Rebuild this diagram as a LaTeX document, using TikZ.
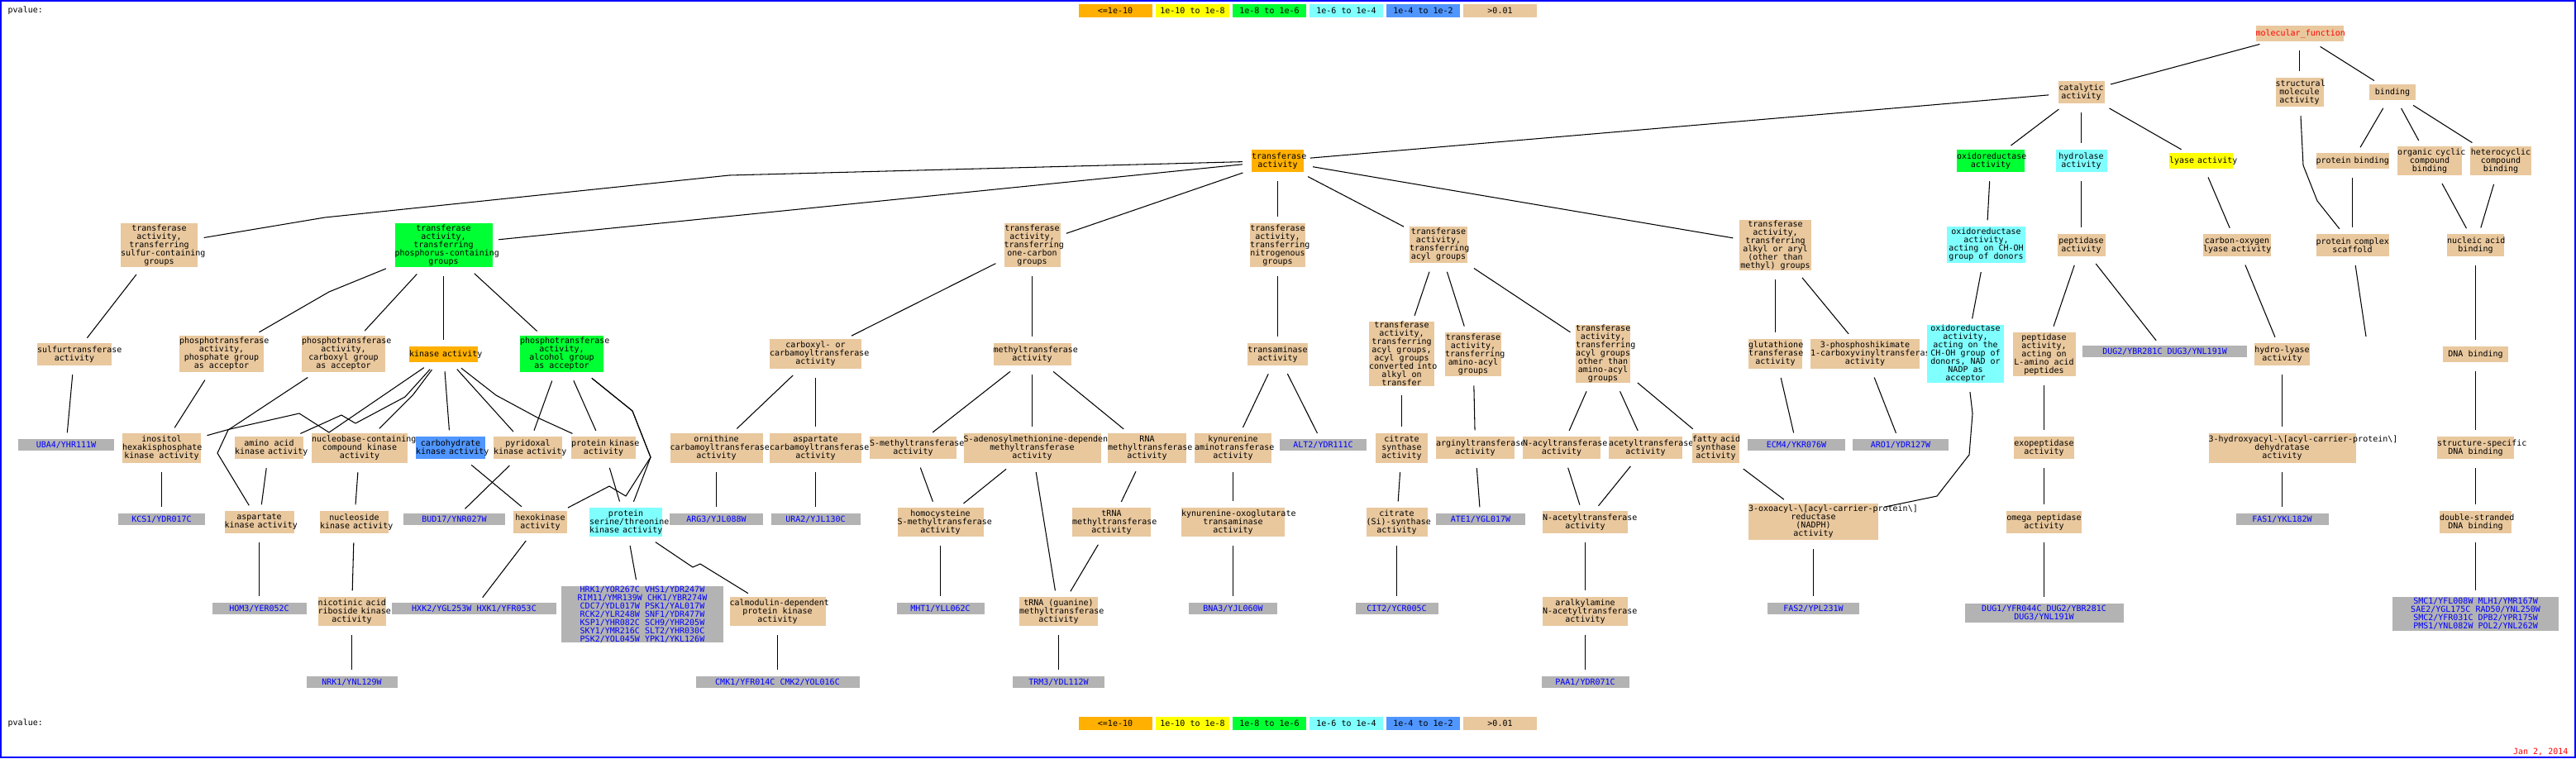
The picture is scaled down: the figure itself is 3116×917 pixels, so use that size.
\documentclass[tikz,border=0pt]{standalone}
\usepackage{fontspec}
\newfontfamily\gofont{DejaVu Sans Mono}
\newdimen\gopx \gopx=0.01cm
\definecolor{cTan}{RGB}{233,200,158}
\definecolor{cOrange}{RGB}{255,176,0}
\definecolor{cYellow}{RGB}{255,255,0}
\definecolor{cGreen}{RGB}{0,255,51}
\definecolor{cCyan}{RGB}{128,255,255}
\definecolor{cBlue}{RGB}{80,150,255}
\definecolor{cGray}{RGB}{179,179,179}
\definecolor{cGeneText}{RGB}{0,0,255}
\definecolor{cRed}{RGB}{255,0,0}
\definecolor{cBorder}{RGB}{0,0,255}
\hyphenpenalty=10000
\exhyphenpenalty=10000
\tikzset{
  gobox/.style={rectangle, inner sep=0pt, align=flush center,
    font=\gofont\fontsize{2.845pt}{2.845pt}\selectfont},
  sz/.style n args={2}{text width=#1\gopx, minimum height=#2\gopx},
  tanbox/.style={gobox, fill=cTan},
  orangebox/.style={gobox, fill=cOrange},
  yellowbox/.style={gobox, fill=cYellow},
  greenbox/.style={gobox, fill=cGreen},
  cyanbox/.style={gobox, fill=cCyan},
  bluebox/.style={gobox, fill=cBlue},
  genebox/.style={gobox, fill=cGray, text=cGeneText},
  plain/.style={inner sep=0pt, font=\gofont\fontsize{2.845pt}{2.845pt}\selectfont},
  conn/.style={draw=black, line width=0.3pt, shorten <=3pt, shorten >=2pt},
}
\begin{document}
\hyphenpenalty=10000
\exhyphenpenalty=10000
\begin{tikzpicture}[x=0.01cm, y=-0.01cm]
\fill[white] (0,0) rectangle (3116,917);
\useasboundingbox (0,0) rectangle (3116,917);
\draw[cBorder, line width=0.57pt] (1,1) rectangle (3115,916);

% legends
\node[plain, anchor=west] (pv1) at (9,13) {pvalue:};
\node[plain, anchor=west] (pv2) at (9,875) {pvalue:};
\node[orangebox, sz={89}{16}] (la1) at (1349,13) {<=1e-10};
\node[yellowbox, sz={89}{16}] (la2) at (1442.5,13) {1e-10~to~1e-8};
\node[greenbox, sz={89}{16}] (la3) at (1535.5,13) {1e-8~to~1e-6};
\node[cyanbox, sz={89}{16}] (la4) at (1628.5,13) {1e-6~to~1e-4};
\node[bluebox, sz={89}{16}] (la5) at (1721.5,13) {1e-4~to~1e-2};
\node[tanbox, sz={89}{16}] (la6) at (1814.5,13) {>0.01};
\node[orangebox, sz={89}{16}] (lb1) at (1349,875) {<=1e-10};
\node[yellowbox, sz={89}{16}] (lb2) at (1442.5,875) {1e-10~to~1e-8};
\node[greenbox, sz={89}{16}] (lb3) at (1535.5,875) {1e-8~to~1e-6};
\node[cyanbox, sz={89}{16}] (lb4) at (1628.5,875) {1e-6~to~1e-4};
\node[bluebox, sz={89}{16}] (lb5) at (1721.5,875) {1e-4~to~1e-2};
\node[tanbox, sz={89}{16}] (lb6) at (1814.5,875) {>0.01};
\node[plain, anchor=east, text=cRed] (date) at (3107,909) {Jan~2,~2014};

% rank 0-2
\node[tanbox, sz={106}{19}, text=cRed] (mf) at (2781.5,40.5) {molecular\_function};
\node[tanbox, sz={56}{27}] (cat) at (2517.5,111.5) {catalytic\\activity};
\node[tanbox, sz={58}{35}] (str) at (2781.5,111.5) {structural\\molecule\\activity};
\node[tanbox, sz={56}{19}] (bind) at (2894,111.5) {binding};
\node[orangebox, sz={63}{27}] (tr) at (1545.5,194.5) {transferase\\activity};
\node[greenbox, sz={82}{27}] (ox) at (2408,194.5) {oxidoreductase\\activity};
\node[cyanbox, sz={62}{27}] (hyd) at (2517.5,194.5) {hydrolase\\activity};
\node[yellowbox, sz={77}{19}] (lya) at (2662.5,194.5) {lyase~activity};
\node[tanbox, sz={88}{19}] (pb) at (2845.5,194.5) {protein~binding};
\node[tanbox, sz={78}{35}] (org) at (2939,194.5) {organic~cyclic\\compound\\binding};
\node[tanbox, sz={74}{35}] (het) at (3025,194.5) {heterocyclic\\compound\\binding};

% rank 3
\node[tanbox, sz={93}{53}] (sul) at (192.5,296.5) {transferase\\activity,\\transferring\\sulfur-containing\\groups};
\node[greenbox, sz={118}{53}] (pho) at (536.5,296.5) {transferase\\activity,\\transferring\\phosphorus-containing\\groups};
\node[tanbox, sz={68}{53}] (one) at (1248.5,296.5) {transferase\\activity,\\transferring\\one-carbon\\groups};
\node[tanbox, sz={67}{53}] (nit) at (1545.5,296.5) {transferase\\activity,\\transferring\\nitrogenous\\groups};
\node[tanbox, sz={70}{44}] (acy) at (1740,296) {transferase\\activity,\\transferring\\acyl~groups};
\node[tanbox, sz={87}{61}] (alk) at (2147.5,296.5) {transferase\\activity,\\transferring\\alkyl~or~aryl\\(other~than\\methyl)~groups};
\node[cyanbox, sz={95}{44}] (choh) at (2402.5,296) {oxidoreductase\\activity,\\acting~on~CH-OH\\group~of~donors};
\node[tanbox, sz={58}{27}] (pep) at (2517.5,296.5) {peptidase\\activity};
\node[tanbox, sz={82}{27}] (co) at (2706,296.5) {carbon-oxygen\\lyase~activity};
\node[tanbox, sz={88}{27}] (scf) at (2845.5,296.5) {protein~complex\\scaffold};
\node[tanbox, sz={69}{27}] (nuc) at (2994.5,296.5) {nucleic~acid\\binding};

% rank 4
\node[tanbox, sz={90}{27}] (sult) at (90,428.5) {sulfurtransferase\\activity};
\node[tanbox, sz={102}{44}] (pgrp) at (268,428) {phosphotransferase\\activity,\\phosphate~group\\as~acceptor};
\node[tanbox, sz={101}{44}] (cgrp) at (415.5,428) {phosphotransferase\\activity,\\carboxyl~group\\as~acceptor};
\node[orangebox, sz={83}{19}] (kin) at (536.5,428.5) {kinase~activity};
\node[greenbox, sz={101}{44}] (agrp) at (679.5,428) {phosphotransferase\\activity,\\alcohol~group\\as~acceptor};
\node[tanbox, sz={111}{36}] (cbm) at (986.5,428) {carboxyl-~or\\carbamoyltransferase\\activity};
\node[tanbox, sz={94}{27}] (mt) at (1248.5,428.5) {methyltransferase\\activity};
\node[tanbox, sz={73}{27}] (tam) at (1545.5,428.5) {transaminase\\activity};
\node[tanbox, sz={79}{78}] (conv) at (1695.5,428) {transferase\\activity,\\transferring\\acyl~groups,\\acyl~groups\\converted~into\\alkyl~on\\transfer};
\node[tanbox, sz={68}{53}] (aac) at (1782,428.5) {transferase\\activity,\\transferring\\amino-acyl\\groups};
\node[tanbox, sz={66}{70}] (oth) at (1939,428) {transferase\\activity,\\transferring\\acyl~groups\\other~than\\amino-acyl\\groups};
\node[tanbox, sz={65}{36}] (glu) at (2147.5,428) {glutathione\\transferase\\activity};
\node[tanbox, sz={132}{36}] (shk) at (2256,428) {3-phosphoshikimate\\1-carboxyvinyltransferase\\activity};
\node[cyanbox, sz={93}{70}] (nad) at (2377.5,428) {oxidoreductase\\activity,\\acting~on~the\\CH-OH~group~of\\donors,~NAD~or\\NADP~as\\acceptor};
\node[tanbox, sz={76}{53}] (lam) at (2472.5,428.5) {peptidase\\activity,\\acting~on\\L-amino~acid\\peptides};
\node[genebox, sz={199}{14}] (gdug) at (2618.5,425) {DUG2/YBR281C~DUG3/YNL191W};
\node[tanbox, sz={67}{27}] (hl) at (2760.5,428.5) {hydro-lyase\\activity};
\node[tanbox, sz={79}{19}] (dna) at (2994.5,428.5) {DNA~binding};

% rank 5
\node[genebox, sz={116}{14}] (guba) at (80,538) {UBA4/YHR111W};
\node[tanbox, sz={95}{36}] (ino) at (195.5,542) {inositol\\hexakisphosphate\\kinase~activity};
\node[tanbox, sz={83}{27}] (aak) at (325.5,541.5) {amino~acid\\kinase~activity};
\node[tanbox, sz={116}{36}] (nbk) at (435,542) {nucleobase-containing\\compound~kinase\\activity};
\node[bluebox, sz={84}{27}] (chk) at (545,541.5) {carbohydrate\\kinase~activity};
\node[tanbox, sz={83}{27}] (pyk) at (638.5,541.5) {pyridoxal\\kinase~activity};
\node[tanbox, sz={78}{27}] (pk) at (730,541.5) {protein~kinase\\activity};
\node[tanbox, sz={112}{36}] (orn) at (866.5,542) {ornithine\\carbamoyltransferase\\activity};
\node[tanbox, sz={111}{36}] (acb) at (986.5,542) {aspartate\\carbamoyltransferase\\activity};
\node[tanbox, sz={105}{27}] (smt) at (1104.5,541.5) {S-methyltransferase\\activity};
\node[tanbox, sz={166}{36}] (sam) at (1248.5,542) {S-adenosylmethionine-dependent\\methyltransferase\\activity};
\node[tanbox, sz={95}{36}] (rmt) at (1387.5,542) {RNA\\methyltransferase\\activity};
\node[tanbox, sz={93}{36}] (kat) at (1491.5,542) {kynurenine\\aminotransferase\\activity};
\node[genebox, sz={105}{14}] (galt) at (1600.5,538) {ALT2/YDR111C};
\node[tanbox, sz={63}{36}] (cs) at (1695.5,542) {citrate\\synthase\\activity};
\node[tanbox, sz={95}{27}] (arg) at (1784.5,541.5) {arginyltransferase\\activity};
\node[tanbox, sz={94}{27}] (nac) at (1889,541.5) {N-acyltransferase\\activity};
\node[tanbox, sz={89}{27}] (act) at (1990.5,541.5) {acetyltransferase\\activity};
\node[tanbox, sz={57}{36}] (fas) at (2075.5,542) {fatty~acid\\synthase\\activity};
\node[genebox, sz={118}{14}] (gecm) at (2173,538) {ECM4/YKR076W};
\node[genebox, sz={116}{14}] (garo) at (2299,538) {ARO1/YDR127W};
\node[tanbox, sz={73}{27}] (exo) at (2472.5,541.5) {exopeptidase\\activity};
\node[tanbox, sz={178}{36}] (hyda) at (2760.5,542) {3-hydroxyacyl-\textbackslash[acyl-carrier-protein\textbackslash]\\dehydratase\\activity};
\node[tanbox, sz={93}{27}] (ssd) at (2994.5,541.5) {structure-specific\\DNA~binding};

% rank 6
\node[genebox, sz={105}{14}] (gkcs) at (195.5,628) {KCS1/YDR017C};
\node[tanbox, sz={84}{27}] (ask) at (313.5,631.5) {aspartate\\kinase~activity};
\node[tanbox, sz={83}{27}] (nsk) at (428.5,631.5) {nucleoside\\kinase~activity};
\node[genebox, sz={123}{14}] (gbud) at (549.5,628) {BUD17/YNR027W};
\node[tanbox, sz={65}{27}] (hxk) at (653.5,631.5) {hexokinase\\activity};
\node[cyanbox, sz={88}{35}] (sst) at (757,631.5) {protein\\serine/threonine\\kinase~activity};
\node[genebox, sz={113}{14}] (garg) at (866.5,628) {ARG3/YJL088W};
\node[genebox, sz={108}{14}] (gura) at (986.5,628) {URA2/YJL130C};
\node[tanbox, sz={104}{35}] (hmt) at (1137.5,631.5) {homocysteine\\S-methyltransferase\\activity};
\node[tanbox, sz={95}{35}] (tmt) at (1344.5,631.5) {tRNA\\methyltransferase\\activity};
\node[tanbox, sz={125}{35}] (kot) at (1491.5,631.5) {kynurenine-oxoglutarate\\transaminase\\activity};
\node[tanbox, sz={74}{35}] (csi) at (1689.5,631.5) {citrate\\(Si)-synthase\\activity};
\node[genebox, sz={108}{14}] (gate) at (1791,628) {ATE1/YGL017W};
\node[tanbox, sz={103}{27}] (nat) at (1917.5,631.5) {N-acetyltransferase\\activity};
\node[tanbox, sz={157}{44}] (oxr) at (2193.5,631) {3-oxoacyl-\textbackslash[acyl-carrier-protein\textbackslash]\\reductase\\(NADPH)\\activity};
\node[tanbox, sz={91}{27}] (omg) at (2472.5,631.5) {omega~peptidase\\activity};
\node[genebox, sz={112}{14}] (gfas1) at (2760.5,628) {FAS1/YKL182W};
\node[tanbox, sz={87}{27}] (dsd) at (2994.5,631.5) {double-stranded\\DNA~binding};

% rank 7
\node[genebox, sz={114}{14}] (ghom) at (313.5,736) {HOM3/YER052C};
\node[tanbox, sz={82}{35}] (nar) at (425.5,739.5) {nicotinic~acid\\riboside~kinase\\activity};
\node[genebox, sz={199}{14}] (ghxk) at (573.5,736) {HXK2/YGL253W~HXK1/YFR053C};
\node[genebox, sz={196}{68}] (gser) at (777,743) {HRK1/YOR267C~VHS1/YDR247W\\RIM11/YMR139W~CHK1/YBR274W\\CDC7/YDL017W~PSK1/YAL017W\\RCK2/YLR248W~SNF1/YDR477W\\KSP1/YHR082C~SCH9/YHR205W\\SKY1/YMR216C~SLT2/YHR030C\\PSK2/YOL045W~YPK1/YKL126W};
\node[tanbox, sz={116}{35}] (cmk) at (940.5,739.5) {calmodulin-dependent\\protein~kinase\\activity};
\node[genebox, sz={106}{14}] (gmht) at (1137.5,736) {MHT1/YLL062C};
\node[tanbox, sz={95}{35}] (tgm) at (1280.5,739.5) {tRNA~(guanine)\\methyltransferase\\activity};
\node[genebox, sz={107}{14}] (gbna) at (1491.5,736) {BNA3/YJL060W};
\node[genebox, sz={100}{14}] (gcit) at (1689.5,736) {CIT2/YCR005C};
\node[tanbox, sz={103}{35}] (aan) at (1917.5,739.5) {aralkylamine\\N-acetyltransferase\\activity};
\node[genebox, sz={111}{14}] (gfas2) at (2193.5,736) {FAS2/YPL231W};
\node[genebox, sz={192}{23}] (gdug1) at (2472.5,741.5) {DUG1/YFR044C~DUG2/YBR281C\\DUG3/YNL191W};
\node[genebox, sz={201}{41}] (gsmc) at (2994.5,742.5) {SMC1/YFL008W~MLH1/YMR167W\\SAE2/YGL175C~RAD50/YNL250W\\SMC2/YFR031C~DPB2/YPR175W\\PMS1/YNL082W~POL2/YNL262W};

% rank 8
\node[genebox, sz={110}{14}] (gnrk) at (425.5,825) {NRK1/YNL129W};
\node[genebox, sz={198}{14}] (gcmk) at (940.5,825) {CMK1/YFR014C~CMK2/YOL016C};
\node[genebox, sz={111}{14}] (gtrm) at (1280.5,825) {TRM3/YDL112W};
\node[genebox, sz={106}{14}] (gpaa) at (1917.5,825) {PAA1/YDR071C};

\coordinate (scfend) at (2863,414);

% connectors
\draw[conn] (mf) -- (cat);
\draw[conn] (mf) -- (str);
\draw[conn] (mf) -- (bind);
\draw[conn] (cat) -- (tr);
\draw[conn] (cat) -- (ox);
\draw[conn] (cat) -- (hyd);
\draw[conn] (cat) -- (lya);
\draw[conn] (bind) -- (pb);
\draw[conn] (bind) -- (org);
\draw[conn] (bind) -- (het);
\draw[conn] (tr) -- (882,212) -- (393,263) -- (sul);
\draw[conn] (tr) -- (pho);
\draw[conn] (tr) -- (one);
\draw[conn] (tr) -- (nit);
\draw[conn] (tr) -- (acy);
\draw[conn] (tr) -- (alk);
\draw[conn] (ox) -- (choh);
\draw[conn] (hyd) -- (pep);
\draw[conn] (lya) -- (co);
\draw[conn] (str) -- (2786,200) -- (2803,243) -- (scf);
\draw[conn] (pb) -- (scf);
\draw[conn] (org) -- (nuc);
\draw[conn] (het) -- (nuc);
\draw[conn] (sul) -- (sult);
\draw[conn] (pho) -- (398,353) -- (pgrp);
\draw[conn] (pho) -- (cgrp);
\draw[conn] (pho) -- (kin);
\draw[conn] (pho) -- (agrp);
\draw[conn] (one) -- (cbm);
\draw[conn] (one) -- (mt);
\draw[conn] (nit) -- (tam);
\draw[conn] (acy) -- (conv);
\draw[conn] (acy) -- (aac);
\draw[conn] (acy) -- (oth);
\draw[conn] (alk) -- (glu);
\draw[conn] (alk) -- (shk);
\draw[conn] (choh) -- (nad);
\draw[conn] (pep) -- (lam);
\draw[conn] (pep) -- (gdug);
\draw[conn] (co) -- (hl);
\draw[conn] (scf) -- (scfend);
\draw[conn] (nuc) -- (dna);
\draw[conn] (sult) -- (guba);
\draw[conn] (pgrp) -- (ino);
\draw[conn] (cgrp) -- (276,520) -- (263,548) -- (ask);
\draw[conn] (kin) -- (398,523) -- (362,500) -- (278,519) -- (ino);
\draw[conn] (kin) -- (490,480) -- (430,512) -- (413,502) -- (aak);
\draw[conn] (kin) -- (500,477) -- (nbk);
\draw[conn] (kin) -- (chk);
\draw[conn] (kin) -- (pyk);
\draw[conn] (kin) -- (600,478) -- (650,505) -- (pk);
\draw[conn] (agrp) -- (pyk);
\draw[conn] (agrp) -- (pk);
\draw[conn] (agrp) -- (765,497) -- (787,553) -- (sst);
\draw[conn] (agrp) -- (765,497) -- (787,553) -- (757,600) -- (737,588) -- (hxk);
\draw[conn] (cbm) -- (orn);
\draw[conn] (cbm) -- (acb);
\draw[conn] (mt) -- (smt);
\draw[conn] (mt) -- (sam);
\draw[conn] (mt) -- (rmt);
\draw[conn] (tam) -- (kat);
\draw[conn] (tam) -- (galt);
\draw[conn] (conv) -- (cs);
\draw[conn] (aac) -- (arg);
\draw[conn] (oth) -- (nac);
\draw[conn] (oth) -- (act);
\draw[conn] (oth) -- (fas);
\draw[conn] (glu) -- (gecm);
\draw[conn] (shk) -- (garo);
\draw[conn] (nad) -- (2386,500) -- (2382,550) -- (2343,600) -- (oxr);
\draw[conn] (lam) -- (exo);
\draw[conn] (hl) -- (hyda);
\draw[conn] (dna) -- (ssd);
\draw[conn] (ino) -- (gkcs);
\draw[conn] (aak) -- (ask);
\draw[conn] (nbk) -- (nsk);
\draw[conn] (chk) -- (hxk);
\draw[conn] (pyk) -- (gbud);
\draw[conn] (pk) -- (sst);
\draw[conn] (orn) -- (garg);
\draw[conn] (acb) -- (gura);
\draw[conn] (smt) -- (hmt);
\draw[conn] (sam) -- (hmt);
\draw[conn] (sam) -- (tgm);
\draw[conn] (rmt) -- (tmt);
\draw[conn] (kat) -- (kot);
\draw[conn] (cs) -- (csi);
\draw[conn] (arg) -- (gate);
\draw[conn] (nac) -- (nat);
\draw[conn] (act) -- (nat);
\draw[conn] (fas) -- (oxr);
\draw[conn] (exo) -- (omg);
\draw[conn] (hyda) -- (gfas1);
\draw[conn] (ssd) -- (dsd);
\draw[conn] (ask) -- (ghom);
\draw[conn] (nsk) -- (nar);
\draw[conn] (hxk) -- (ghxk);
\draw[conn] (sst) -- (gser);
\draw[conn] (sst) -- (838,686) -- (847,682) -- (cmk);
\draw[conn] (hmt) -- (gmht);
\draw[conn] (tmt) -- (tgm);
\draw[conn] (kot) -- (gbna);
\draw[conn] (csi) -- (gcit);
\draw[conn] (nat) -- (aan);
\draw[conn] (oxr) -- (gfas2);
\draw[conn] (omg) -- (gdug1);
\draw[conn] (dsd) -- (gsmc);
\draw[conn] (nar) -- (gnrk);
\draw[conn] (cmk) -- (gcmk);
\draw[conn] (tgm) -- (gtrm);
\draw[conn] (aan) -- (gpaa);
\end{tikzpicture}
\end{document}
